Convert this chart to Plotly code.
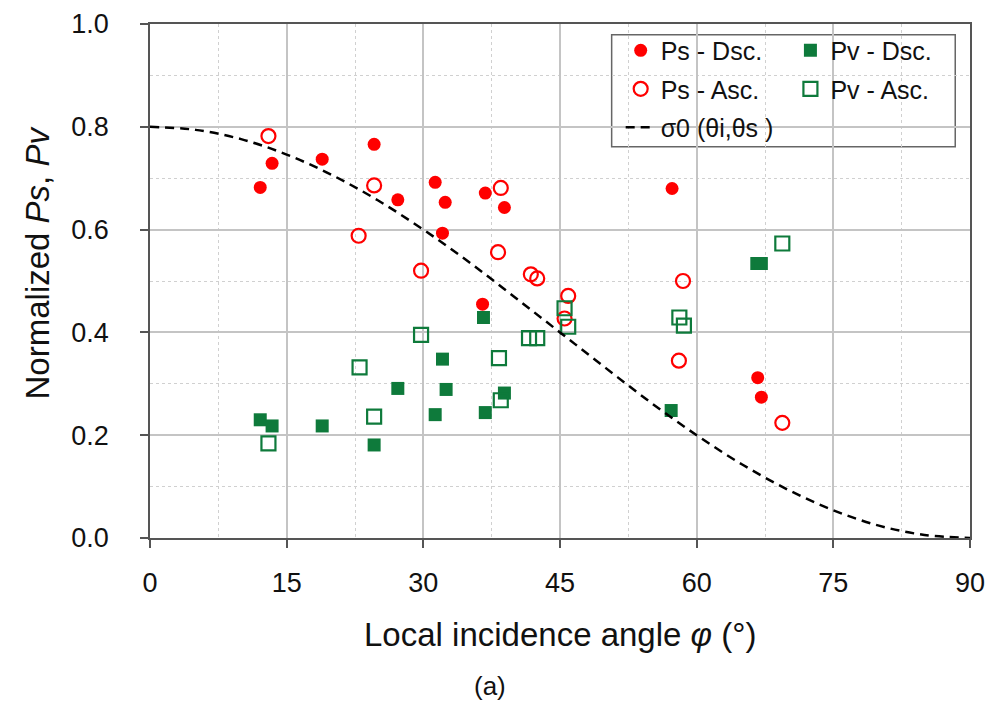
import plotly.graph_objects as go

# ---- data ----
ps_dsc_x = [12.1, 13.4, 18.9, 24.6, 27.2, 31.3, 32.4, 32.1, 36.8, 38.9, 36.5, 57.3, 66.7, 67.1]
ps_dsc_y = [0.682, 0.729, 0.737, 0.766, 0.658, 0.692, 0.653, 0.593, 0.671, 0.643, 0.455, 0.680, 0.312, 0.274]

ps_asc_x = [13.0, 24.6, 22.9, 29.75, 38.5, 38.2, 41.8, 42.5, 45.9, 45.5, 58.5, 58.05, 69.4]
ps_asc_y = [0.782, 0.686, 0.588, 0.520, 0.681, 0.556, 0.513, 0.505, 0.471, 0.427, 0.500, 0.345, 0.224]

pv_dsc_x = [12.1, 13.4, 18.9, 24.6, 27.2, 31.3, 32.1, 32.5, 36.6, 36.8, 38.9, 57.2, 66.6, 67.1]
pv_dsc_y = [0.230, 0.218, 0.218, 0.181, 0.291, 0.240, 0.348, 0.289, 0.429, 0.244, 0.282, 0.248, 0.534, 0.534]

pv_asc_x = [13.0, 23.0, 24.6, 29.75, 38.3, 38.5, 41.6, 42.5, 45.5, 45.9, 58.1, 58.6, 69.4]
pv_asc_y = [0.184, 0.332, 0.236, 0.395, 0.350, 0.268, 0.389, 0.389, 0.447, 0.411, 0.429, 0.413, 0.573]

sigma_x = [0, 5, 10, 15, 20, 25, 30, 35, 40, 45, 50, 55, 60, 65, 70, 75, 80, 85, 90]
sigma_y = [0.800, 0.794, 0.776, 0.746, 0.706, 0.657, 0.600, 0.537, 0.469, 0.400,
           0.331, 0.263, 0.200, 0.143, 0.094, 0.054, 0.024, 0.006, 0.000]

x_ticks = [0, 15, 30, 45, 60, 75, 90]
y_ticks = [0.0, 0.2, 0.4, 0.6, 0.8, 1.0]

RED = "#ff0000"
GREEN = "#0e7a3b"
FONT = "Liberation Sans, Arial, sans-serif"

fig = go.Figure()

fig.add_trace(go.Scatter(x=ps_dsc_x, y=ps_dsc_y, mode="markers", name="Ps - Dsc.",
                         marker=dict(symbol="circle", size=13, color=RED),
                         legend="legend", legendgroup="a"))
fig.add_trace(go.Scatter(x=ps_asc_x, y=ps_asc_y, mode="markers", name="Ps - Asc.",
                         marker=dict(symbol="circle-open", size=14, color=RED, line=dict(width=2.2, color=RED)),
                         legend="legend", legendgroup="b"))
fig.add_trace(go.Scatter(x=pv_dsc_x, y=pv_dsc_y, mode="markers", name="Pv - Dsc.",
                         marker=dict(symbol="square", size=13, color=GREEN),
                         legend="legend2", legendgroup="c"))
fig.add_trace(go.Scatter(x=pv_asc_x, y=pv_asc_y, mode="markers", name="Pv - Asc.",
                         marker=dict(symbol="square-open", size=14, color=GREEN, line=dict(width=2.2, color=GREEN)),
                         legend="legend2", legendgroup="d"))
fig.add_trace(go.Scatter(x=sigma_x, y=sigma_y, mode="lines", name="σ0 (θi,θs )",
                         line=dict(color="black", width=2.5, dash="9px,6px", shape="spline"),
                         legend="legend", legendgroup="e"))

axis_common = dict(
    showline=True, linecolor="#555555", linewidth=1.5, mirror=True,
    ticks="outside", ticklen=8, tickcolor="#555555", tickwidth=1.5,
    showgrid=True, gridcolor="#c4c4c4", gridwidth=1.5,
    zeroline=False,
    tickfont=dict(family=FONT, size=27, color="#111111"),
)

fig.update_layout(
    width=986, height=706,
    margin=dict(l=150, r=16, t=24, b=168, autoexpand=False),
    paper_bgcolor="white", plot_bgcolor="white",
    showlegend=True,
    xaxis=dict(range=[0, 90], tickmode="array", tickvals=x_ticks,
               ticktext=[str(v) for v in x_ticks], ticklabelstandoff=12,
               minor=dict(dtick=7.5, tick0=0, showgrid=True, gridcolor="#d0d0d0",
                          griddash="dot", gridwidth=1.2, ticklen=0),
               **axis_common),
    yaxis=dict(range=[0, 1.0], tickmode="array", tickvals=y_ticks,
               ticktext=[f"{v:.1f}" for v in y_ticks], ticklabelstandoff=26,
               minor=dict(dtick=0.1, tick0=0, showgrid=True, gridcolor="#d0d0d0",
                          griddash="dot", gridwidth=1.2, ticklen=0),
               **axis_common),
    legend=dict(x=0.574, y=0.993, xanchor="left", yanchor="top",
                bgcolor="rgba(0,0,0,0)", borderwidth=0, tracegroupgap=3,
                font=dict(family=FONT, size=25, color="#111111")),
    legend2=dict(x=0.781, y=0.993, xanchor="left", yanchor="top",
                 bgcolor="rgba(0,0,0,0)", borderwidth=0, tracegroupgap=3,
                 font=dict(family=FONT, size=25, color="#111111")),
    shapes=[dict(type="rect", xref="paper", yref="paper",
                 x0=0.563, x1=0.982, y0=0.761, y1=0.979,
                 line=dict(color="#666666", width=1.5), fillcolor="white", layer="below")],
    annotations=[
        dict(text="Normalized <i>Ps</i>, <i>Pv</i>", xref="paper", yref="paper",
             x=-0.136, y=0.537, textangle=-90, showarrow=False,
             xanchor="center", yanchor="middle",
             font=dict(family=FONT, size=33, color="#111111")),
        dict(text="Local incidence angle <i>φ</i> (°)", xref="paper", yref="paper",
             x=0.5, y=-0.187, showarrow=False, xanchor="center", yanchor="middle",
             font=dict(family=FONT, size=33, color="#111111")),
        dict(text="(a)", xref="paper", yref="paper",
             x=(490 - 150) / 820, y=(538 - 686) / 514, showarrow=False,
             xanchor="center", yanchor="middle",
             font=dict(family=FONT, size=26, color="#111111")),
    ],
)

fig.write_html("out.html")
